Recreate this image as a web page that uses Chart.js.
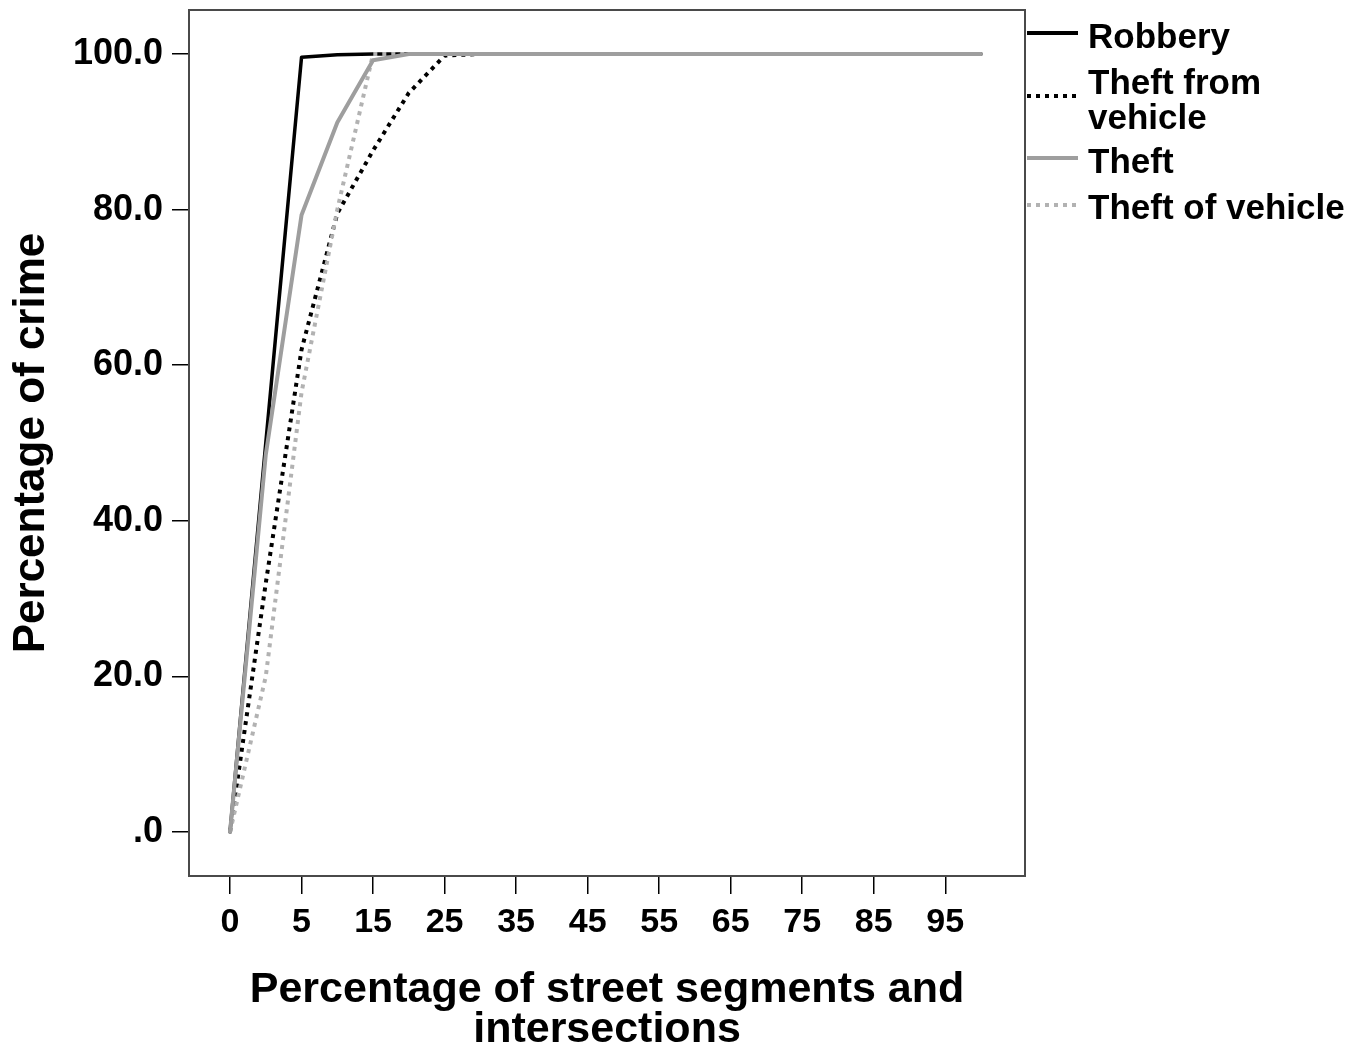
<!DOCTYPE html>
<html>
<head>
<meta charset="utf-8">
<script src="https://cdn.jsdelivr.net/npm/chart.js@4.4.1/dist/chart.umd.min.js"></script>
<style>
  html, body { margin: 0; padding: 0; background: #ffffff; }
  #wrap { width: 1352px; height: 1050px; position: relative; }
</style>
</head>
<body>
<div id="wrap"><canvas id="c" width="1352" height="1050"></canvas></div>
<script>
// Category positions on the x axis (percentage of street segments and intersections)
const categories = ['0','1','5','10','15','20','25','30','35','40','45','50','55','60','65','70','75','80','85','90','95','100'];
// Cumulative percentage of crime per series
const robbery          = [0, 50, 99.6, 99.9, 100, 100, 100, 100, 100, 100, 100, 100, 100, 100, 100, 100, 100, 100, 100, 100, 100, 100];
const theftFromVehicle = [0, 32, 62, 79.5, 87.6, 95, 99.8, 100, 100, 100, 100, 100, 100, 100, 100, 100, 100, 100, 100, 100, 100, 100];
const theft            = [0, 48.5, 79.3, 91.2, 99.2, 100, 100, 100, 100, 100, 100, 100, 100, 100, 100, 100, 100, 100, 100, 100, 100, 100];
const theftOfVehicle   = [0, 20, 56.5, 80, 100, 100, 100, 100, 100, 100, 100, 100, 100, 100, 100, 100, 100, 100, 100, 100, 100, 100];
// Tick labels
const yTickValues = [0, 20, 40, 60, 80, 100];
const seriesNames = ['Robbery', 'Theft from vehicle', 'Theft', 'Theft of vehicle'];
const legendLines = [['Robbery'], ['Theft from', 'vehicle'], ['Theft'], ['Theft of vehicle']];

const FONT = '"Liberation Sans", Arial, sans-serif';
const toPts = arr => arr.map((v, i) => ({ x: i, y: v }));

const styles = [
  { color: '#000000', dash: [], width: 3.5, order: 3 },
  { color: '#000000', dash: [4, 5], width: 4, order: 2 },
  { color: '#9e9e9e', dash: [], width: 4, order: 0 },
  { color: '#b2b2b2', dash: [4, 5], width: 4, order: 1 }
];
const seriesData = [robbery, theftFromVehicle, theft, theftOfVehicle];

const framePlugin = {
  id: 'frame',
  beforeDatasetsDraw(chart) {
    const { ctx, chartArea: a } = chart;
    ctx.save();
    ctx.strokeStyle = '#4a4a4a';
    ctx.lineWidth = 2;
    ctx.strokeRect(a.left, a.top, a.right - a.left, a.bottom - a.top);
    ctx.restore();
  }
};

const legendPlugin = {
  id: 'sideLegend',
  afterDraw(chart) {
    const { ctx, chartArea: a } = chart;
    const x0 = a.right + 2, x1 = a.right + 53, tx = a.right + 63;
    const sampleY = [33, 96, 158, 205];
    const textY = [[38], [84, 119], [163], [209]];
    ctx.save();
    styles.forEach((s, i) => {
      ctx.beginPath();
      ctx.strokeStyle = s.color;
      ctx.lineWidth = 4;
      ctx.setLineDash(s.dash);
      ctx.moveTo(x0, sampleY[i]);
      ctx.lineTo(x1, sampleY[i]);
      ctx.stroke();
    });
    ctx.setLineDash([]);
    ctx.fillStyle = '#000';
    ctx.font = 'bold 35px ' + FONT;
    ctx.textBaseline = 'middle';
    ctx.textAlign = 'left';
    legendLines.forEach((lines, i) => {
      lines.forEach((t, j) => ctx.fillText(t, tx, textY[i][j]));
    });
    ctx.restore();
  }
};

new Chart(document.getElementById('c'), {
  type: 'line',
  data: {
    datasets: seriesData.map((d, i) => ({
      label: seriesNames[i],
      data: toPts(d),
      borderColor: styles[i].color,
      borderDash: styles[i].dash,
      borderWidth: styles[i].width,
      borderCapStyle: styles[i].dash.length ? 'butt' : 'round',
      borderJoinStyle: 'round',
      pointRadius: 0,
      pointHoverRadius: 0,
      tension: 0,
      fill: false,
      order: styles[i].order
    }))
  },
  options: {
    responsive: false,
    animation: false,
    events: [],
    layout: { padding: { top: 10, right: 327, left: 0, bottom: 0 } },
    plugins: { legend: { display: false }, tooltip: { enabled: false } },
    scales: {
      x: {
        type: 'linear',
        min: -1.147,
        max: 22.23,
        afterBuildTicks(scale) {
          scale.ticks = categories.map((c, i) => ({ value: i })).filter(t => t.value % 2 === 0);
        },
        afterFit(scale) { scale.height = 174; scale.paddingLeft = 0; scale.paddingRight = 0; },
        ticks: {
          autoSkip: false,
          maxRotation: 0,
          minRotation: 0,
          padding: 8,
          color: '#000',
          font: { family: FONT, size: 34, weight: 'bold' },
          callback: v => categories[v]
        },
        grid: { drawOnChartArea: false, drawTicks: true, tickLength: 18, color: '#000', lineWidth: 1.5 },
        border: { display: false },
        title: {
          display: true,
          text: ['Percentage of street segments and', 'intersections'],
          color: '#000',
          font: { family: FONT, size: 43, weight: 'bold', lineHeight: 0.93 },
          padding: { top: 0, bottom: 0 }
        }
      },
      y: {
        type: 'linear',
        min: -5.66,
        max: 105.66,
        afterBuildTicks(scale) {
          scale.ticks = yTickValues.map(v => ({ value: v }));
        },
        afterFit(scale) { scale.width = 189; scale.paddingTop = 0; scale.paddingBottom = 0; },
        ticks: {
          padding: 9,
          color: '#000',
          font: { family: FONT, size: 36, weight: 'bold' },
          callback: v => (v === 0 ? '.0' : v.toFixed(1))
        },
        grid: { drawOnChartArea: false, drawTicks: true, tickLength: 17, color: '#000', lineWidth: 1.5 },
        border: { display: false },
        title: {
          display: true,
          text: 'Percentage of crime',
          color: '#000',
          font: { family: FONT, size: 44, weight: 'bold', lineHeight: 1 },
          padding: { top: 10, bottom: 0 }
        }
      }
    }
  },
  plugins: [framePlugin, legendPlugin]
});
</script>
</body>
</html>
